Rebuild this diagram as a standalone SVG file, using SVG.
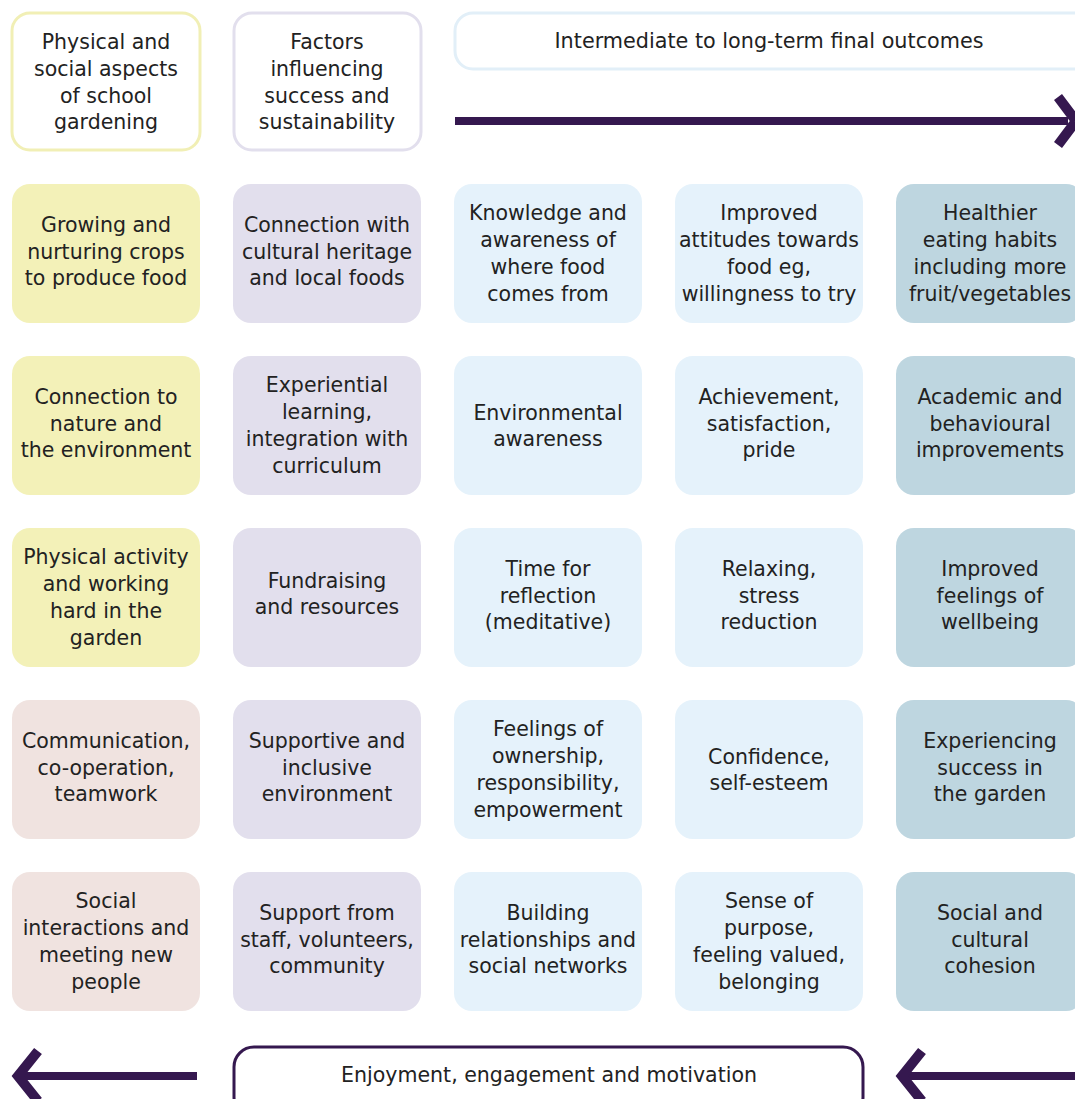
<svg xmlns="http://www.w3.org/2000/svg" width="1075" height="1099" viewBox="0 0 1075 1099">
<style>
text{font-family:"DejaVu Sans",Verdana,sans-serif;font-size:20.5px;fill:#222;text-anchor:middle}
.y{fill:#f3f1b8}.l{fill:#e2dfed}.b{fill:#e5f2fb}.g{fill:#bed6e0}.p{fill:#f0e3e0}
.hy{fill:#fff;stroke:#f1efb5;stroke-width:3}.hl{fill:#fff;stroke:#e2dfed;stroke-width:3}.hb{fill:#fff;stroke:#e2eff8;stroke-width:3}
.arr{fill:none;stroke:#35184f;stroke-width:8}
.chev{fill:none;stroke:#35184f;stroke-width:10;stroke-linejoin:miter}
</style>
<rect width="1075" height="1099" fill="#fff"/>
<g id="header-aspects"><rect class="hy" x="12" y="13" width="188" height="137" rx="18"/>
<text x="106" y="49">Physical and</text><text x="106" y="76">social aspects</text><text x="106" y="103">of school</text><text x="106" y="129">gardening</text></g>
<g id="header-factors"><rect class="hl" x="234" y="13" width="187" height="137" rx="18"/>
<text x="327" y="49">Factors</text><text x="327" y="76">influencing</text><text x="327" y="103">success and</text><text x="327" y="129">sustainability</text></g>
<g id="header-outcomes"><rect class="hb" x="455" y="13" width="640" height="56" rx="18"/>
<text x="769" y="48" textLength="429" lengthAdjust="spacingAndGlyphs">Intermediate to long-term final outcomes</text></g>
<g id="connectors">
<path class="arr" d="M455 121H1068"/>
<path class="chev" d="M1058 97L1076 121L1058 145"/>
<path class="arr" d="M22 1076H197"/>
<path class="chev" d="M38 1051L18 1076L38 1101"/>
<path class="arr" d="M906 1076H1075"/>
<path class="chev" d="M922 1051L902 1076L922 1101"/>
</g>
<g id="footer-enjoyment"><rect x="234" y="1047" width="629" height="70" rx="20" fill="#fff" stroke="#35184f" stroke-width="3"/>
<text x="549" y="1082" textLength="416" lengthAdjust="spacingAndGlyphs">Enjoyment, engagement and motivation</text></g>

<g id="r1c1"><rect class="y" x="12" y="184" width="188" height="139" rx="18"/><text x="106" y="232">Growing and</text><text x="106" y="258.5">nurturing crops</text><text x="106" y="285">to produce food</text></g>
<g id="r1c2"><rect class="l" x="233" y="184" width="188" height="139" rx="18"/><text x="327" y="232">Connection with</text><text x="327" y="258.5">cultural heritage</text><text x="327" y="285">and local foods</text></g>
<g id="r1c3"><rect class="b" x="454" y="184" width="188" height="139" rx="18"/><text x="548" y="220">Knowledge and</text><text x="548" y="247">awareness of</text><text x="548" y="274">where food</text><text x="548" y="301">comes from</text></g>
<g id="r1c4"><rect class="b" x="675" y="184" width="188" height="139" rx="18"/><text x="769" y="220">Improved</text><text x="769" y="247">attitudes towards</text><text x="769" y="274">food eg,</text><text x="769" y="301">willingness to try</text></g>
<g id="r1c5"><rect class="g" x="896" y="184" width="188" height="139" rx="18"/><text x="990" y="220">Healthier</text><text x="990" y="247">eating habits</text><text x="990" y="274">including more</text><text x="990" y="301">fruit/vegetables</text></g>

<g id="r2c1"><rect class="y" x="12" y="356" width="188" height="139" rx="18"/><text x="106" y="404">Connection to</text><text x="106" y="430.5">nature and</text><text x="106" y="457">the environment</text></g>
<g id="r2c2"><rect class="l" x="233" y="356" width="188" height="139" rx="18"/><text x="327" y="392">Experiential</text><text x="327" y="419">learning,</text><text x="327" y="446">integration with</text><text x="327" y="473">curriculum</text></g>
<g id="r2c3"><rect class="b" x="454" y="356" width="188" height="139" rx="18"/><text x="548" y="420">Environmental</text><text x="548" y="446">awareness</text></g>
<g id="r2c4"><rect class="b" x="675" y="356" width="188" height="139" rx="18"/><text x="769" y="404">Achievement,</text><text x="769" y="430.5">satisfaction,</text><text x="769" y="457">pride</text></g>
<g id="r2c5"><rect class="g" x="896" y="356" width="188" height="139" rx="18"/><text x="990" y="404">Academic and</text><text x="990" y="430.5">behavioural</text><text x="990" y="457">improvements</text></g>

<g id="r3c1"><rect class="y" x="12" y="528" width="188" height="139" rx="18"/><text x="106" y="564">Physical activity</text><text x="106" y="591">and working</text><text x="106" y="618">hard in the</text><text x="106" y="645">garden</text></g>
<g id="r3c2"><rect class="l" x="233" y="528" width="188" height="139" rx="18"/><text x="327" y="588">Fundraising</text><text x="327" y="614">and resources</text></g>
<g id="r3c3"><rect class="b" x="454" y="528" width="188" height="139" rx="18"/><text x="548" y="576">Time for</text><text x="548" y="602.5">reflection</text><text x="548" y="629">(meditative)</text></g>
<g id="r3c4"><rect class="b" x="675" y="528" width="188" height="139" rx="18"/><text x="769" y="576">Relaxing,</text><text x="769" y="602.5">stress</text><text x="769" y="629">reduction</text></g>
<g id="r3c5"><rect class="g" x="896" y="528" width="188" height="139" rx="18"/><text x="990" y="576">Improved</text><text x="990" y="602.5">feelings of</text><text x="990" y="629">wellbeing</text></g>

<g id="r4c1"><rect class="p" x="12" y="700" width="188" height="139" rx="18"/><text x="106" y="748">Communication,</text><text x="106" y="774.5">co-operation,</text><text x="106" y="801">teamwork</text></g>
<g id="r4c2"><rect class="l" x="233" y="700" width="188" height="139" rx="18"/><text x="327" y="748">Supportive and</text><text x="327" y="774.5">inclusive</text><text x="327" y="801">environment</text></g>
<g id="r4c3"><rect class="b" x="454" y="700" width="188" height="139" rx="18"/><text x="548" y="736">Feelings of</text><text x="548" y="763">ownership,</text><text x="548" y="790">responsibility,</text><text x="548" y="817">empowerment</text></g>
<g id="r4c4"><rect class="b" x="675" y="700" width="188" height="139" rx="18"/><text x="769" y="764">Confidence,</text><text x="769" y="790">self-esteem</text></g>
<g id="r4c5"><rect class="g" x="896" y="700" width="188" height="139" rx="18"/><text x="990" y="748">Experiencing</text><text x="990" y="774.5">success in</text><text x="990" y="801">the garden</text></g>

<g id="r5c1"><rect class="p" x="12" y="872" width="188" height="139" rx="18"/><text x="106" y="908">Social</text><text x="106" y="935">interactions and</text><text x="106" y="962">meeting new</text><text x="106" y="989">people</text></g>
<g id="r5c2"><rect class="l" x="233" y="872" width="188" height="139" rx="18"/><text x="327" y="920">Support from</text><text x="327" y="946.5">staff, volunteers,</text><text x="327" y="973">community</text></g>
<g id="r5c3"><rect class="b" x="454" y="872" width="188" height="139" rx="18"/><text x="548" y="920">Building</text><text x="548" y="946.5">relationships and</text><text x="548" y="973">social networks</text></g>
<g id="r5c4"><rect class="b" x="675" y="872" width="188" height="139" rx="18"/><text x="769" y="908">Sense of</text><text x="769" y="935">purpose,</text><text x="769" y="962">feeling valued,</text><text x="769" y="989">belonging</text></g>
<g id="r5c5"><rect class="g" x="896" y="872" width="188" height="139" rx="18"/><text x="990" y="920">Social and</text><text x="990" y="946.5">cultural</text><text x="990" y="973">cohesion</text></g>
</svg>
